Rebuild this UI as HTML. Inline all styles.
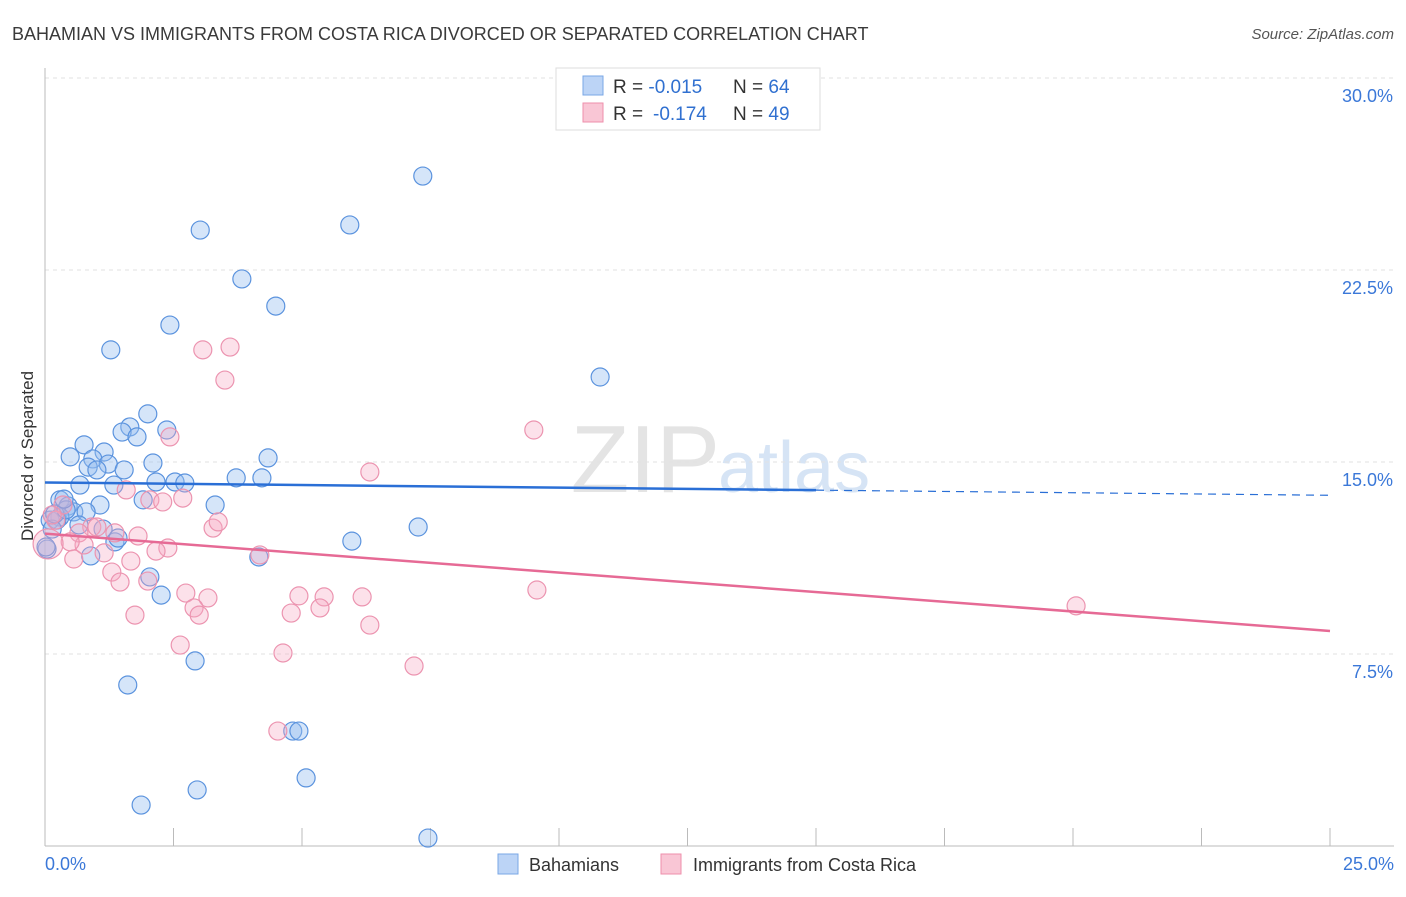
<!DOCTYPE html>
<html><head><meta charset="utf-8"><style>
body{margin:0;background:#fff;font-family:"Liberation Sans",sans-serif;}
svg text{font-family:"Liberation Sans",sans-serif;}
</style></head><body>
<svg id="chart" width="1406" height="892" viewBox="0 0 1406 892" xmlns="http://www.w3.org/2000/svg">
<text x="12" y="40" font-size="18" fill="#3a3a3a">BAHAMIAN VS IMMIGRANTS FROM COSTA RICA DIVORCED OR SEPARATED CORRELATION CHART</text>
<text x="1394" y="39" font-size="15" fill="#555" text-anchor="end" font-style="italic">Source: ZipAtlas.com</text>
<text x="720" y="492" font-size="96" fill="#e4e4e4" text-anchor="end" font-family="Liberation Serif">ZIP</text>
<text x="718" y="492" font-size="72" fill="#d6e4f5">atlas</text>
<g id="grid"></g>
<g id="axes"></g>
<g id="pts"></g>
<g id="trends"></g>
<text transform="translate(33,456) rotate(-90)" font-size="17" fill="#333" text-anchor="middle">Divorced or Separated</text>
<g>
<rect x="556" y="68" width="264" height="62" fill="#fff" stroke="#ddd"/>
<rect x="583" y="76" width="20" height="19" fill="#bcd4f6" stroke="#7aa7e6"/>
<rect x="583" y="103" width="20" height="19" fill="#f9c6d5" stroke="#ee8fab"/>
<text x="613" y="93" font-size="19" fill="#333">R = <tspan fill="#3070d0">-0.015</tspan><tspan x="733">N = </tspan><tspan fill="#3070d0">64</tspan></text>
<text x="613" y="120" font-size="19" fill="#333">R = <tspan fill="#3070d0" x="653">-0.174</tspan><tspan x="733">N = </tspan><tspan fill="#3070d0">49</tspan></text>
</g>
<g>
<rect x="498" y="854" width="20" height="20" fill="#bcd4f6" stroke="#7aa7e6"/>
<text x="529" y="871" font-size="18" fill="#333">Bahamians</text>
<rect x="661" y="854" width="20" height="20" fill="#f9c6d5" stroke="#ee8fab"/>
<text x="693" y="871" font-size="18" fill="#333">Immigrants from Costa Rica</text>
</g>
</svg>
<script>
const yTicks=[7.5,15,22.5,30];
const yTickLabels=["7.5%","15.0%","22.5%","30.0%"];
const xTickLabels=["0.0%","25.0%"];
const bahX=[7.35,5.93,3.02,3.83,4.49,2.43,1.28,10.8,2.0,1.65,1.5,2.37,1.79,0.76,1.15,0.49,0.93,1.23,0.84,1.01,1.54,2.1,4.34,2.16,1.34,2.53,2.72,4.22,3.72,0.68,0.29,1.91,3.31,0.45,1.07,0.56,0.8,0.29,0.1,0.23,0.66,7.26,1.13,0.14,5.97,1.36,4.16,0.89,0.04,0.02,2.04,2.26,2.92,1.61,4.82,4.94,5.08,2.96,1.87,7.45,0.19,1.42,0.41,0.37];
const bahY=[26.17,24.26,24.06,22.15,21.09,20.35,19.38,18.32,16.88,16.37,16.17,16.25,15.98,15.67,15.39,15.2,15.12,14.92,14.8,14.69,14.69,14.96,15.16,14.22,14.1,14.22,14.18,14.38,14.38,14.1,13.52,13.52,13.32,13.28,13.32,13.05,13.05,12.85,12.73,12.73,12.54,12.46,12.38,12.38,11.91,11.88,11.29,11.33,11.6,11.68,10.51,9.8,7.23,6.29,4.49,4.49,2.66,2.19,1.6,0.31,12.97,12.03,13.13,13.55];
const crX=[3.6,3.07,3.5,9.51,2.43,6.32,1.58,2.04,2.68,2.29,0.35,0.21,0.14,0.91,1.01,0.66,1.36,3.27,3.37,1.81,2.39,2.16,1.15,0.76,0.49,4.18,0.56,1.67,1.3,1.46,2.0,9.57,20.06,4.94,5.43,2.74,3.17,6.17,2.9,3.0,1.75,4.79,5.35,6.32,2.63,4.63,7.18,4.53,0.06];
const crY=[19.49,19.38,18.2,16.25,15.98,14.61,13.91,13.52,13.59,13.44,13.32,12.73,12.93,12.46,12.46,12.23,12.23,12.42,12.66,12.11,11.64,11.52,11.45,11.76,11.88,11.37,11.21,11.13,10.7,10.31,10.35,10.0,9.38,9.77,9.73,9.88,9.69,9.73,9.3,9.02,9.02,9.1,9.3,8.63,7.85,7.54,7.03,4.49,11.8];
const bahTrend=[14.2,13.7];
const crTrend=[12.2,8.4];
const NS="http://www.w3.org/2000/svg";
const X=v=>45+v/25*1285, Y=v=>846-v/30*768;
function mk(p,t,a){const e=document.createElementNS(NS,t);for(const k in a)e.setAttribute(k,a[k]);document.getElementById(p).appendChild(e);return e;}
yTicks.forEach((t,i)=>{
 const l=mk('grid','line',{x1:45,x2:1394,y1:Y(t),y2:Y(t),stroke:'#e2e2e2','stroke-dasharray':'4,4'});
 
 
 const tx=mk('grid','text',{x:1393,y:Y(t)+24,'font-size':18,fill:'#3b78d8','text-anchor':'end'});tx.textContent=yTickLabels[i];
 
 
});
const ax=mk('axes','line',{x1:45,x2:1394,y1:846,y2:846,stroke:'#bbb'});


const ay=mk('axes','line',{x1:45,x2:45,y1:68,y2:846,stroke:'#bbb'});


for(let i=1;i<=10;i++){const t=mk('axes','line',{x1:X(i*2.5),x2:X(i*2.5),y1:828,y2:846,stroke:'#bbb'});
 
 }
[[0,'start',45],[25,'end',1394]].forEach((d,i)=>{const t=mk('axes','text',{x:d[2],y:870,'font-size':18,fill:'#3b78d8','text-anchor':d[1]});t.textContent=xTickLabels[i];
 
 });
bahX.forEach((x,i)=>{const c=mk('pts','circle',{cx:X(x),cy:Y(bahY[i]),r:9,fill:'rgba(150,190,240,0.4)',stroke:'#5b93de','stroke-width':1.2});
 
 });
crX.forEach((x,i)=>{const c=mk('pts','circle',{cx:X(x),cy:Y(crY[i]),r:i==48?15:9,fill:'rgba(245,170,195,0.35)',stroke:'#ec94b0','stroke-width':1.2});
 
 });
const bm=bahTrend[0]+(bahTrend[1]-bahTrend[0])*0.6;
const b1=mk('trends','line',{x1:X(0),y1:Y(bahTrend[0]),x2:X(15),y2:Y(bm),stroke:'#2a6fd6','stroke-width':2.5});


const b2=mk('trends','line',{x1:X(15),y1:Y(bm),x2:X(25),y2:Y(bahTrend[1]),stroke:'#2a6fd6','stroke-width':1.2,'stroke-dasharray':'8,6'});


const c1=mk('trends','line',{x1:X(0),y1:Y(crTrend[0]),x2:X(25),y2:Y(crTrend[1]),stroke:'#e66a95','stroke-width':2.5});


</script>
</body></html>
